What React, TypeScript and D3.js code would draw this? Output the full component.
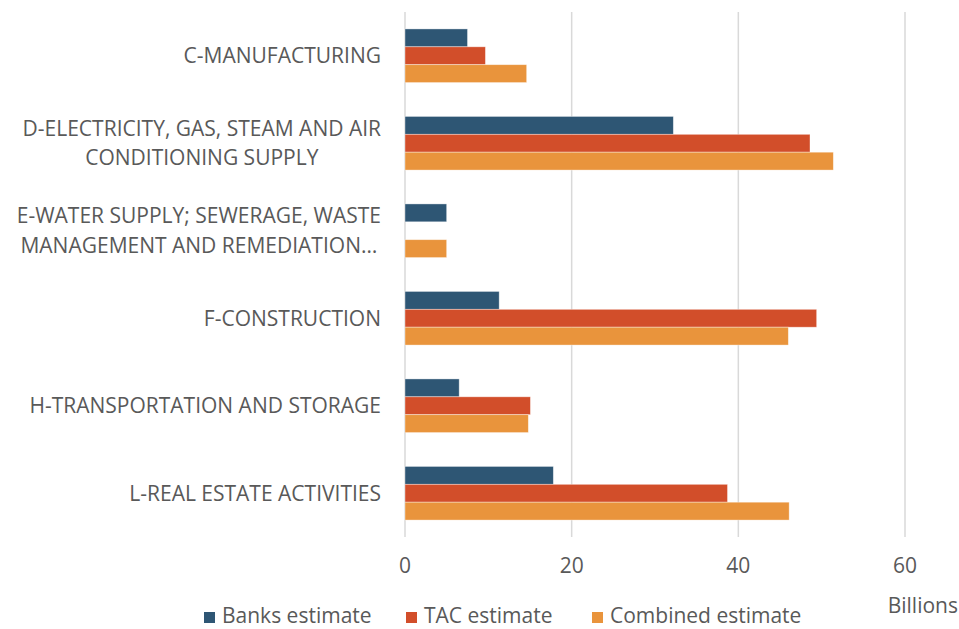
import { useEffect, useRef } from "react";
import * as d3 from "d3";

// Categorias (linhas do rótulo separadas por "\n")
const categories = [
  "C-MANUFACTURING",
  "D-ELECTRICITY, GAS, STEAM AND AIR\nCONDITIONING SUPPLY",
  "E-WATER SUPPLY; SEWERAGE, WASTE\nMANAGEMENT AND REMEDIATION…",
  "F-CONSTRUCTION",
  "H-TRANSPORTATION AND STORAGE",
  "L-REAL ESTATE ACTIVITIES",
];

const seriesNames = ["Banks estimate", "TAC estimate", "Combined estimate"];

// Valores em bilhões
const banksValues = [7.5, 32.2, 5.0, 11.3, 6.5, 17.8];
const tacValues = [9.65, 48.6, 0, 49.4, 15.05, 38.7];
const combinedValues = [14.6, 51.4, 5.0, 46.0, 14.8, 46.1];

const xTicks = [0, 20, 40, 60];

const CORES: Record<string, string> = {
  "Banks estimate": "#2E5674",
  "TAC estimate": "#D24E2A",
  "Combined estimate": "#E9943C",
};

const WIDTH = 959;
const HEIGHT = 629;
const FONT = "'Open Sans', 'Noto Sans', sans-serif";
const FONT_SIZE = "21px";
const TEXT_COLOR = "#595959";

const App = () => {
  const svgRef = useRef<SVGSVGElement>(null);

  useEffect(() => {
    if (!svgRef.current) return;
    const svg = d3.select(svgRef.current);
    svg.selectAll("*").remove();

    const valores = [banksValues, tacValues, combinedValues];

    const xScale = d3.scaleLinear().domain([0, 60]).range([405, 905]);

    const yScale = d3
      .scaleBand<string>()
      .domain(categories)
      .range([12, 537])
      .paddingInner(0.387)
      .paddingOuter(0.1935);

    const ySub = d3
      .scaleBand<string>()
      .domain(seriesNames)
      .range([0, yScale.bandwidth()])
      .padding(0);

    // Grid vertical
    svg
      .append("g")
      .selectAll("line")
      .data(xTicks)
      .enter()
      .append("line")
      .attr("x1", (d) => xScale(d))
      .attr("x2", (d) => xScale(d))
      .attr("y1", 12)
      .attr("y2", 537)
      .attr("stroke", "#D9D9D9")
      .attr("stroke-width", 1.5);

    // Barras
    seriesNames.forEach((nome, si) => {
      svg
        .append("g")
        .selectAll("rect")
        .data(categories)
        .enter()
        .append("rect")
        .attr("x", xScale(0))
        .attr("y", (c) => (yScale(c) ?? 0) + (ySub(nome) ?? 0))
        .attr("width", (_, i) => xScale(valores[si][i]) - xScale(0))
        .attr("height", ySub.bandwidth())
        .attr("fill", CORES[nome])
        .attr("stroke", "#ffffff")
        .attr("stroke-opacity", 0.5)
        .attr("stroke-width", 0.75)
        .style("display", (_, i) => (valores[si][i] > 0 ? null : "none"));
    });

    // Rótulos das categorias
    const labels = svg
      .append("g")
      .style("font-family", FONT)
      .style("font-size", FONT_SIZE)
      .attr("fill", TEXT_COLOR);

    categories.forEach((c) => {
      const linhas = c.split("\n");
      const centro = (yScale(c) ?? 0) + yScale.bandwidth() / 2;
      const t = labels.append("text").attr("text-anchor", "end");
      if (linhas.length === 1) {
        t.attr("x", 381).attr("y", centro).attr("dy", "0.35em").text(linhas[0]);
        return;
      }
      const lineH = 29.5;
      linhas.forEach((l, li) => {
        t.append("tspan")
          .attr("x", 381)
          .attr("y", centro + (li - (linhas.length - 1) / 2) * lineH)
          .attr("dy", "0.35em")
          .text(l);
      });
      // centraliza as linhas pelo bloco (estilo Excel)
      const spans = t.selectAll<SVGTSpanElement, unknown>("tspan").nodes();
      const larguras = spans.map((s) => s.getComputedTextLength());
      const maxW = d3.max(larguras) ?? 0;
      const cx = 381 - maxW / 2;
      spans.forEach((s) => {
        d3.select(s).attr("x", cx).attr("text-anchor", "middle");
      });
    });

    // Eixo X (apenas rótulos)
    svg
      .append("g")
      .selectAll("text")
      .data(xTicks)
      .enter()
      .append("text")
      .attr("x", (d) => xScale(d))
      .attr("y", 566)
      .attr("dy", "0.35em")
      .attr("text-anchor", "middle")
      .style("font-family", FONT)
      .style("font-size", FONT_SIZE)
      .attr("fill", TEXT_COLOR)
      .text((d) => d3.format("d")(d));

    svg
      .append("text")
      .attr("x", 958)
      .attr("y", 606)
      .attr("dy", "0.35em")
      .attr("text-anchor", "end")
      .style("font-family", FONT)
      .style("font-size", FONT_SIZE)
      .attr("fill", TEXT_COLOR)
      .text("Billions");

    // Legenda
    const legendaX = [204, 406, 592];
    const legenda = svg.append("g");
    seriesNames.forEach((nome, i) => {
      legenda
        .append("rect")
        .attr("x", legendaX[i])
        .attr("y", 612)
        .attr("width", 11)
        .attr("height", 11)
        .attr("fill", CORES[nome]);
      legenda
        .append("text")
        .attr("x", legendaX[i] + 18)
        .attr("y", 623)
        .style("font-family", FONT)
        .style("font-size", FONT_SIZE)
        .attr("fill", TEXT_COLOR)
        .text(nome);
    });
  }, []);

  return (
    <div style={{ position: "absolute", left: 0, top: 0, background: "#fff" }}>
      <svg ref={svgRef} width={WIDTH} height={HEIGHT} style={{ display: "block" }} />
    </div>
  );
};

export default App;
